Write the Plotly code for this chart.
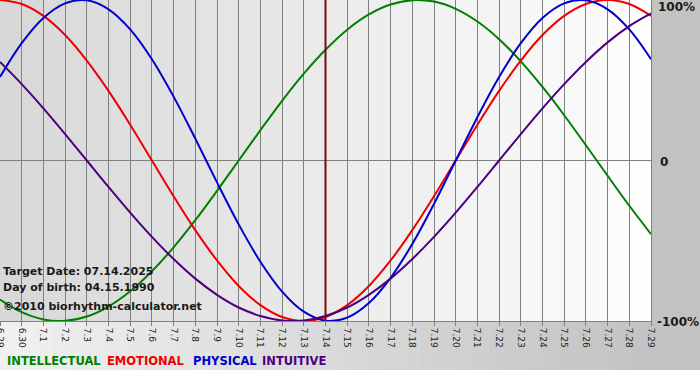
import plotly.graph_objects as go

# ---- data ----
day_labels = ["6.29", "6.30", "7.1", "7.2", "7.3", "7.4", "7.5", "7.6", "7.7", "7.8",
              "7.9", "7.10", "7.11", "7.12", "7.13", "7.14", "7.15", "7.16", "7.17", "7.18",
              "7.19", "7.20", "7.21", "7.22", "7.23", "7.24", "7.25", "7.26", "7.27", "7.28", "7.29"]

physical = [0.520, 0.731, 0.888, 0.979, 0.998, 0.942, 0.817, 0.631, 0.398, 0.136,
            -0.136, -0.398, -0.631, -0.817, -0.942, -0.998, -0.979, -0.888, -0.731, -0.520,
            -0.270, 0.000, 0.270, 0.520, 0.731, 0.888, 0.979, 0.998, 0.942, 0.817, 0.631]

emotional = [1.000, 0.975, 0.901, 0.782, 0.623, 0.434, 0.223, 0.000, -0.223, -0.434,
             -0.623, -0.782, -0.901, -0.975, -1.000, -0.975, -0.901, -0.782, -0.623, -0.434,
             -0.223, 0.000, 0.223, 0.434, 0.623, 0.782, 0.901, 0.975, 1.000, 0.975, 0.901]

intellectual = [-0.866, -0.945, -0.990, -0.999, -0.972, -0.910, -0.815, -0.690, -0.541, -0.372,
                -0.189, 0.000, 0.189, 0.372, 0.541, 0.690, 0.815, 0.910, 0.972, 0.999,
                0.990, 0.945, 0.866, 0.756, 0.618, 0.458, 0.282, 0.095, -0.095, -0.282, -0.458]

intuitive = [0.614, 0.476, 0.325, 0.165, 0.000, -0.165, -0.325, -0.476, -0.614, -0.736,
             -0.837, -0.916, -0.969, -0.997, -0.997, -0.969, -0.916, -0.837, -0.736, -0.614,
             -0.476, -0.325, -0.165, 0.000, 0.165, 0.325, 0.476, 0.614, 0.736, 0.837, 0.916]

target_label = "7.14"
info_lines = ["Target Date: 07.14.2025", "Day of birth: 04.15.1990", "©2010 biorhythm-calculator.net"]
legend_names = ["INTELLECTUAL", "EMOTIONAL", "PHYSICAL", "INTUITIVE"]
y_labels = ["100%", "0", "-100%"]

# ---- styling ----
W, H = 700, 380
PL, PR, PT, PB = 0, 651, 0, 321          # plot area in pixels
FONT = "DejaVu Sans"
col_int, col_emo, col_phy, col_ituit = "#008000", "#ee0000", "#0000cc", "#4b0082"

x = list(range(len(day_labels)))
n = len(day_labels)

def px_x(p):
    return (p - PL) / (PR - PL)

def px_y(p):
    return (PB - p) / (PB - PT)

def lerp_col(c0, c1, t):
    return "rgb(%d,%d,%d)" % tuple(round(a + (b - a) * t) for a, b in zip(c0, c1))

fig = go.Figure()

series = [(intellectual, col_int), (emotional, col_emo), (physical, col_phy), (intuitive, col_ituit)]
for vals, c in series:
    fig.add_trace(go.Scatter(x=x, y=vals, mode="lines",
                             line=dict(color=c, width=2, shape="spline", smoothing=1.0),
                             showlegend=False, hoverinfo="skip"))

shapes = []
# outer background gradient (light left -> gray right)
steps = 40
for k in range(steps):
    x0p = k * W / steps
    x1p = (k + 1) * W / steps
    shapes.append(dict(type="rect", xref="paper", yref="paper",
                       x0=px_x(x0p), x1=px_x(x1p) + 0.002, y0=px_y(370), y1=px_y(0),
                       fillcolor=lerp_col((240, 240, 240), (194, 194, 194), min(1, k / (steps * 0.93))),
                       line=dict(width=0), layer="below"))
# plot area gradient (gray left -> white right), one strip per day
for k in range(n - 1):
    t = k / (n - 2)
    shapes.append(dict(type="rect", xref="x", yref="paper",
                       x0=k, x1=k + 1, y0=0, y1=1,
                       fillcolor=lerp_col((216, 216, 216), (253, 253, 253), t),
                       line=dict(width=0), layer="below"))
# target day vertical line
ti = day_labels.index(target_label)
shapes.append(dict(type="line", xref="x", yref="paper", x0=ti, x1=ti, y0=0, y1=1,
                   line=dict(color="#7a0a0a", width=2), layer="above"))

annotations = []
for txt, yc in zip(info_lines, [271, 287, 306]):
    annotations.append(dict(text="<b>%s</b>" % txt, xref="paper", yref="paper",
                            x=px_x(1), y=px_y(yc), xanchor="left", yanchor="middle",
                            showarrow=False, font=dict(family=FONT, size=11, color="#1a1a1a")))
for name, c, xp in zip(legend_names, [col_int, col_emo, col_phy, col_ituit], [5, 105, 191, 260]):
    annotations.append(dict(text="<b>%s</b>" % name, xref="paper", yref="paper",
                            x=px_x(xp), y=px_y(361), xanchor="left", yanchor="middle",
                            showarrow=False, font=dict(family=FONT, size=11.5, color=c)))
for txt, xp, yc in zip(y_labels, [656, 658, 655], [7, 162, 322]):
    annotations.append(dict(text="<b>%s</b>" % txt, xref="paper", yref="paper",
                            x=px_x(xp), y=px_y(yc), xanchor="left", yanchor="middle",
                            showarrow=False, font=dict(family=FONT, size=12, color="#1a1a1a")))

fig.update_layout(
    width=W, height=H,
    margin=dict(l=PL, r=W - PR, t=PT, b=H - PB, pad=0, autoexpand=False),
    paper_bgcolor="white", plot_bgcolor="rgba(0,0,0,0)",
    shapes=shapes, annotations=annotations, showlegend=False,
    xaxis=dict(range=[0, n - 1], tickmode="array", tickvals=x, ticktext=day_labels,
               tickangle=90, tickfont=dict(family=FONT, size=9, color="#222222"),
               ticklabeloverflow="allow", automargin=False,
               ticks="outside", ticklen=4, tickcolor="#808080",
               showgrid=True, gridcolor="#808080", gridwidth=1,
               showline=True, linecolor="#808080", mirror=True, zeroline=False,
               fixedrange=True),
    yaxis=dict(range=[-1.0, 1.0], showticklabels=False, ticks="", automargin=False,
               showgrid=False, zeroline=True, zerolinecolor="#808080", zerolinewidth=1,
               showline=True, linecolor="#808080", mirror=True, fixedrange=True),
)

fig.write_html("out.html", config={"displayModeBar": False},
               post_script="document.body.style.margin='0px';document.body.style.overflow='hidden';")
